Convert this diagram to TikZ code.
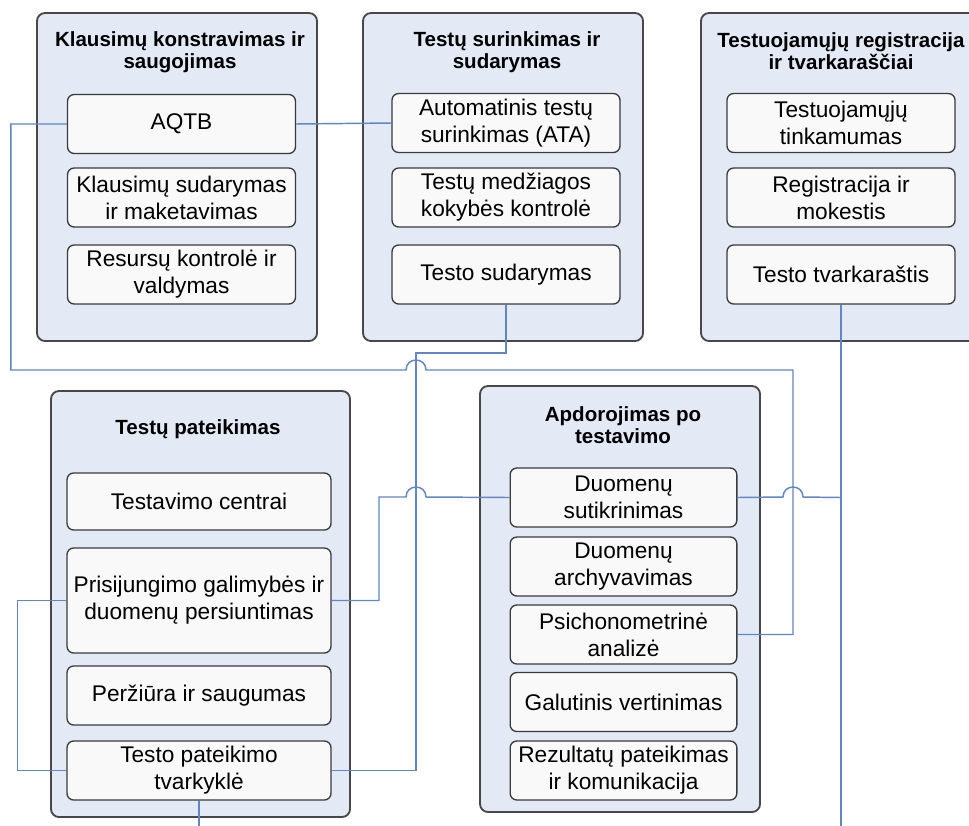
\documentclass[tikz,border=0pt]{standalone}
\usepackage{fontspec}
\setmainfont{Liberation Sans}
\definecolor{grpfill}{RGB}{227,234,246}
\definecolor{grpline}{RGB}{72,72,72}
\definecolor{boxfill}{RGB}{249,249,249}
\definecolor{boxline}{RGB}{58,58,58}
\definecolor{linkblue}{RGB}{96,134,197}
\begin{document}
\begin{tikzpicture}[x=0.75pt,y=-0.75pt,
		group/.style={draw=grpline,fill=grpfill,line width=1.4pt,rounded corners=6pt,minimum width=210pt,minimum height=246pt},
		title/.style={font=\fontsize{15.4}{16.8}\selectfont\bfseries,align=center,inner sep=0pt},
		item/.style={draw=boxline,fill=boxfill,line width=1pt,rounded corners=5pt,minimum width=171pt,minimum height=44.25pt,inner sep=0pt,align=center,font=\fontsize{17}{20.3}\selectfont},
		link/.style={draw=linkblue,line width=1.1pt}]
		\useasboundingbox (0,0) rectangle (969,825);

		% Group 1: klausimai
		\node[group] (g1) at (177,177) {};
		\node[title] (t1) at (180,52) {Klausimų konstravimas ir\\saugojimas};
		\node[item] (aqtb) at (181.5,124) {AQTB};
		\node[item] (ksud) at (181.5,197.5) {Klausimų sudarymas\\ir maketavimas};
		\node[item] (resk) at (181.5,274.5) {Resursų kontrolė ir\\valdymas};

		% Group 2: testu surinkimas
		\node[group] (g2) at (503,177) {};
		\node[title] (t2) at (507,52) {Testų surinkimas ir\\sudarymas};
		\node[item] (ata) at (506,123) {Automatinis testų\\surinkimas (ATA)};
		\node[item] (kokyb) at (506,197.5) {Testų medžiagos\\kokybės kontrolė};
		\node[item] (tsud) at (506,274.5) {Testo sudarymas};

		% Group 3: registracija
		\node[group] (g3) at (841,177) {};
		\node[title] (t3) at (841,51) {Testuojamųjų registracija\\ir tvarkaraščiai};
		\node[item] (tink) at (841,123) {Testuojamųjų\\tinkamumas};
		\node[item] (regm) at (841,197.5) {Registracija ir\\mokestis};
		\node[item] (tvar) at (841,274.5) {Testo tvarkaraštis};

		% Group 4: pateikimas
		\node[group,minimum width=224.25pt,minimum height=319.5pt] (g4) at (200.5,604) {};
		\node[title] (t4) at (198,429) {Testų pateikimas};
		\node[item,minimum width=198pt,minimum height=42.75pt] (tcen) at (199,501.5) {Testavimo centrai};
		\node[item,minimum width=198pt,minimum height=78.75pt] (pris) at (199,600.5) {Prisijungimo galimybės ir\\duomenų persiuntimas};
		\node[item,minimum width=198pt] (perz) at (199,695.5) {Peržiūra ir saugumas};
		\node[item,minimum width=198pt] (tvark) at (199,770.5) {Testo pateikimo\\tvarkyklė};

		% Group 5: apdorojimas
		\node[group,minimum height=319.5pt] (g5) at (620,599) {};
		\node[title] (t5) at (623,425) {Apdorojimas po\\testavimo};
		\node[item,minimum width=170pt] (dsut) at (623.5,497.5) {Duomenų\\sutikrinimas};
		\node[item,minimum width=170pt] (darch) at (623.5,566.5) {Duomenų\\archyvavimas};
		\node[item,minimum width=170pt] (psich) at (623.5,634.5) {Psichonometrinė\\analizė};
		\node[item,minimum width=170pt] (galv) at (623.5,702) {Galutinis vertinimas};
		\node[item,minimum width=170pt] (rezp) at (623.5,770.5) {Rezultatų pateikimas\\ir komunikacija};

		% connectors
		\coordinate (bottom) at (0,826);
		\draw[link] (aqtb.east) -- (ata.west);
		\draw[link] (aqtb.west) -- ++(-56,0) |- (406,370)
			.. controls (406,356.7) and (426,356.7) .. (426,370) -- (793,370) |- (psich.east);
		\draw[link] (tsud.south) |- (416,353) |- (tvark.east);
		\draw[link] (pris.east) -| (379,497) -- (406,497)
			.. controls (406,483.7) and (426,483.7) .. (426,497) -- (dsut.west);
		\draw[link] (dsut.east) -- (783,497)
			.. controls (783,483.7) and (803,483.7) .. (803,497) -- (tvar.south |- dsut.east);
		\draw[link,line width=1.7pt] (tvar.south) -- (tvar.south |- bottom);
		\draw[link] (pris.west) -- ++(-49,0) |- (tvark.west);
		\draw[link] (tvark.south) -- (tvark.south |- bottom);
	\end{tikzpicture}
\end{document}
